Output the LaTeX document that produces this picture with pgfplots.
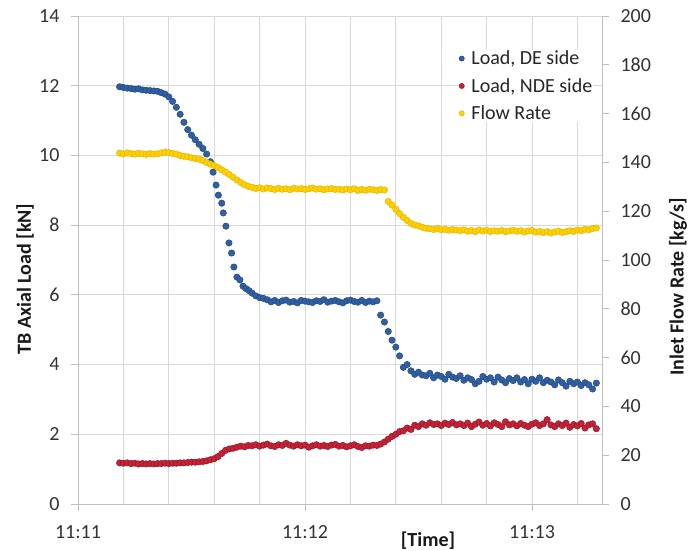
\documentclass[border=0pt]{standalone}
\usepackage{fontspec}
\setmainfont{Carlito}
\usepackage{pgfplots}
\usepackage{pgfplotstable}
\pgfplotsset{compat=1.18}
\definecolor{deblue}{RGB}{48,96,162}
\definecolor{debluedk}{RGB}{36,72,128}
\definecolor{ndered}{RGB}{196,34,54}
\definecolor{nderedk}{RGB}{150,22,40}
\definecolor{flowyel}{RGB}{255,208,0}
\definecolor{flowyeldk}{RGB}{228,182,0}
\definecolor{gridgray}{RGB}{217,217,217}
\definecolor{axisgray}{RGB}{191,191,191}

% Load, DE side [kN]
\pgfplotstableread{
t v
11 11.97
12 11.95
13 11.93
14 11.92
15 11.90
16 11.91
17 11.88
18 11.87
19 11.86
20 11.85
21 11.84
22 11.80
23 11.76
24 11.68
25 11.55
26 11.38
27 11.18
28 10.95
29 10.74
30 10.58
31 10.45
32 10.32
33 10.20
34 10.04
35 9.82
35.7 9.52
36.5 9.15
37.1 8.86
38.0 8.63
38.4 8.35
39.1 7.97
39.9 7.49
40.6 7.20
41.2 6.80
42.0 6.51
42.8 6.43
43.6 6.25
44.4 6.18
45.2 6.12
46 6.05
47 5.97
48 5.92
49 5.90
50 5.86
51 5.80
52 5.84
53 5.78
54 5.83
55 5.85
56 5.79
57 5.81
58 5.77
59 5.84
60 5.82
61 5.80
62 5.78
63 5.83
64 5.81
65 5.86
66 5.79
67 5.82
68 5.84
69 5.80
70 5.77
71 5.83
72 5.85
73 5.81
74 5.79
75 5.84
76 5.78
77 5.82
78 5.80
79 5.83
80 5.42
81 5.22
82 4.95
83 4.70
84 4.50
85 4.25
86 3.92
87 4.00
88 3.82
89 3.72
90 3.78
91 3.70
92 3.68
93 3.75
94 3.62
95 3.70
96 3.66
97 3.58
98 3.72
99 3.64
100 3.60
101 3.68
102 3.55
103 3.62
104 3.57
105 3.45
106 3.52
107 3.66
108 3.58
109 3.62
110 3.50
111 3.64
112 3.56
113 3.48
114 3.60
115 3.54
116 3.62
117 3.50
118 3.57
119 3.45
120 3.58
121 3.52
122 3.62
123 3.48
124 3.55
125 3.50
126 3.42
127 3.56
128 3.48
129 3.38
130 3.52
131 3.45
132 3.50
133 3.40
134 3.48
135 3.42
136 3.30
137 3.47
}\dedata

% Load, NDE side [kN]
\pgfplotstableread{
t v
11 1.18
12 1.17
13 1.18
14 1.16
15 1.17
16 1.15
17 1.16
18 1.15
19 1.16
20 1.15
21 1.16
22 1.16
23 1.17
24 1.16
25 1.17
26 1.17
27 1.18
28 1.18
29 1.19
30 1.20
31 1.20
32 1.21
33 1.22
34 1.24
35 1.27
36 1.30
37 1.36
38 1.45
39 1.54
40 1.58
41 1.60
42 1.63
43 1.66
44 1.64
45 1.68
46 1.67
47 1.70
48 1.66
49 1.69
50 1.72
51 1.67
52 1.65
53 1.70
54 1.68
55 1.74
56 1.69
57 1.66
58 1.70
59 1.67
60 1.69
61 1.63
62 1.67
63 1.70
64 1.66
65 1.68
66 1.65
67 1.69
68 1.71
69 1.66
70 1.68
71 1.64
72 1.67
73 1.70
74 1.65
75 1.62
76 1.67
77 1.66
78 1.69
79 1.68
80 1.72
81 1.78
82 1.86
83 1.94
84 2.00
85 2.08
86 2.10
87 2.18
88 2.14
89 2.26
90 2.22
91 2.30
92 2.26
93 2.33
94 2.28
95 2.30
96 2.25
97 2.32
98 2.28
99 2.34
100 2.27
101 2.30
102 2.25
103 2.32
104 2.22
105 2.29
106 2.35
107 2.26
108 2.31
109 2.24
110 2.33
111 2.28
112 2.22
113 2.36
114 2.27
115 2.30
116 2.24
117 2.31
118 2.26
119 2.22
120 2.29
121 2.33
122 2.25
123 2.30
124 2.42
125 2.27
126 2.22
127 2.30
128 2.25
129 2.32
130 2.20
131 2.28
132 2.24
133 2.31
134 2.18
135 2.27
136 2.30
137 2.16
}\ndedata

% Flow Rate [kg/s]
\pgfplotstableread{
t v
11 143.8
12 143.5
13 143.9
14 143.6
15 143.4
16 143.7
17 143.5
18 143.3
19 143.6
20 143.4
21 143.5
22 143.9
23 144.2
24 144.0
25 143.7
26 143.4
27 142.8
28 142.5
29 142.3
30 141.9
31 141.6
32 141.3
33 140.8
34 140.0
35 139.3
36 138.7
37 137.9
38 137.0
39 136.0
40 135.0
41 133.9
42 132.8
43 131.8
44 130.8
45 130.2
46 129.8
47 129.3
48 129.6
49 129.1
50 129.5
51 129.3
52 128.9
53 129.4
54 129.0
55 129.2
56 128.8
57 129.4
58 129.1
59 129.3
60 128.9
61 129.2
62 129.5
63 129.0
64 129.2
65 128.8
66 129.1
67 129.3
68 128.9
69 129.0
70 128.7
71 129.1
72 128.8
73 129.2
74 128.5
75 128.9
76 128.6
77 129.0
78 128.8
79 128.5
80 128.9
81 128.7
82 124.0
83 122.5
84 120.8
85 119.0
86 117.5
87 116.2
88 115.0
89 114.3
90 114.0
91 113.4
92 113.0
93 112.8
94 112.5
95 112.9
96 112.4
97 112.6
98 112.2
99 112.5
100 112.3
101 112.0
102 112.4
103 111.8
104 112.1
105 111.6
106 112.3
107 111.9
108 112.2
109 111.7
110 112.0
111 111.8
112 112.1
113 111.6
114 111.9
115 112.2
116 111.8
117 112.0
118 111.5
119 111.9
120 112.1
121 111.4
122 111.7
123 111.2
124 111.6
125 111.1
126 111.5
127 111.8
128 111.3
129 111.6
130 112.0
131 111.7
132 112.3
133 112.0
134 112.6
135 112.4
136 112.9
137 113.1
}\flowdata

\pgfplotsset{
  common/.style={
    at={(0pt,0pt)}, anchor=south west,
    scale only axis, width=524pt, height=488pt,
    xmin=0, xmax=138.5,
    axis line style={-, axisgray, line width=0.8pt},
    tick align=outside, major tick length=7pt, minor tick length=0pt,
    tick style={axisgray, line width=0.8pt},
    /pgf/number format/assume math mode=true,
    ticklabel style={font=\fontsize{20}{24}\selectfont, text=black!80},
    label style={font=\fontsize{20}{24}\selectfont\bfseries, text=black!90},
  },
  pts/.style={only marks, mark=*, mark size=3.2pt, line width=0.5pt},
}

\begin{document}
\begin{tikzpicture}[font=\fontsize{20}{24}\selectfont]
\useasboundingbox (-78pt,-46pt) rectangle (620pt,504pt);
\begin{axis}[
  common,
  ymin=0, ymax=14,
  axis x line*=bottom, axis y line*=left,
  xtick={0,60,120}, xticklabels={11:11,11:12,11:13},
  minor xtick={12,24,36,48,72,84,96,108,132},
  ytick={0,2,...,14},
  xticklabel style={yshift=-11pt},
  yticklabel style={xshift=-8pt},
  grid=both,
  major grid style={gridgray, line width=0.8pt},
  minor grid style={gridgray, line width=0.8pt},
  xlabel={[Time]}, ylabel={TB Axial Load [kN]},
  xlabel style={at={(axis description cs:0.668,0)}, anchor=north, yshift=-24pt},
  ylabel style={at={(axis description cs:-0.101,0.461)}, anchor=center},
]
\addplot[pts, draw=debluedk, fill=deblue] table[x=t, y=v] {\dedata};
\addplot[pts, draw=nderedk, fill=ndered] table[x=t, y=v] {\ndedata};
\end{axis}
\begin{axis}[
  common,
  ymin=0, ymax=200,
  axis x line=none, axis y line*=right,
  ytick={0,20,...,200},
  yticklabel style={xshift=8pt},
  ylabel={Inlet Flow Rate [kg/s]},
  ylabel style={at={(axis description cs:1.145,0.445)}, anchor=center},
  legend cell align=left,
  legend image code/.code={\draw[#1, mark size=2.6pt] plot coordinates {(0pt,0pt)};},
  legend style={draw=none, fill=white, inner sep=0pt, row sep=10pt, column sep=6pt,
    at={(axis description cs:0.727,0.931)}, anchor=north west,
    font=\fontsize{20}{24}\selectfont, text=black!85, nodes={inner sep=1pt}},
]
\addlegendimage{pts, draw=debluedk, fill=deblue}
\addlegendentry{Load, DE side}
\addlegendimage{pts, draw=nderedk, fill=ndered}
\addlegendentry{Load, NDE side}
\addplot[pts, draw=flowyeldk, fill=flowyel] table[x=t, y=v] {\flowdata};
\addlegendentry{Flow Rate}
\end{axis}
\end{tikzpicture}
\end{document}
